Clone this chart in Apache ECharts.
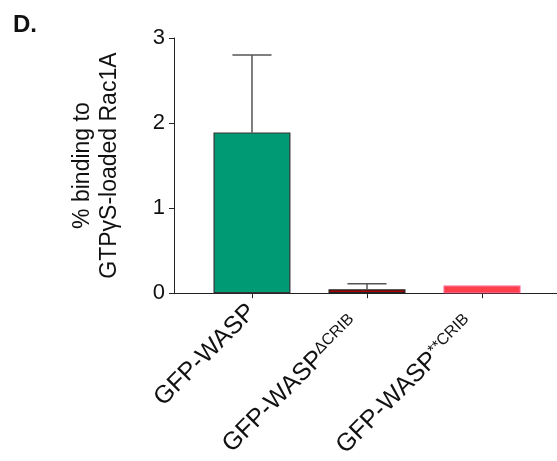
<!DOCTYPE html>
<html><head><meta charset="utf-8">
<script src="https://cdn.jsdelivr.net/npm/echarts@6/dist/echarts.min.js"></script>
<style>html,body{margin:0;padding:0;background:#fff}#c{width:557px;height:461px}</style>
</head><body><div id="c"></div>
<script>
const categories = ['GFP-WASP', 'GFP-WASP{sup|ΔCRIB}', 'GFP-WASP{sup|**CRIB}'];
const means = [1.89, 0.045, 0.09];
const errTops = [2.80, 0.11, null];
const barColors = ['#009B74', '#A80000', '#FF4048'];
const barBorders = ['#333333', '#222222', '#FF5A85'];
const yTicks = [0, 1, 2, 3];

const chart = echarts.init(document.getElementById('c'));
const font = 'Arial, "Liberation Sans", sans-serif';
chart.setOption({
  animation: false,
  title: { text: 'D.', left: 8, top: 8, textStyle: { fontFamily: font, fontSize: 24, fontWeight: 'bold', color: '#111' } },
  grid: { left: 174, right: 0, top: 38, bottom: 167, containLabel: false },
  xAxis: {
    type: 'value', min: -0.678, max: 2.652,
    splitLine: { show: false },
    axisLine: { show: true, onZero: false, lineStyle: { color: '#222', width: 1 } },
    axisTick: { show: true, customValues: [0, 1, 2], length: 5, lineStyle: { color: '#222' } },
    axisLabel: {
      customValues: [0, 1, 2], rotate: 45, margin: 15,
      fontFamily: font, fontSize: 25, color: '#111', lineHeight: 26,
      formatter: v => categories[Math.round(v)],
      rich: { sup: { fontFamily: font, fontSize: 16, color: '#111', verticalAlign: 'top', lineHeight: 26, padding: [0, 17, 0, 0] } }
    }
  },
  yAxis: {
    type: 'value', min: 0, max: 3, interval: 1,
    splitLine: { show: false },
    axisLine: { show: true, onZero: false, lineStyle: { color: '#222', width: 1 } },
    axisTick: { show: true, length: 5, lineStyle: { color: '#222' } },
    axisLabel: { fontFamily: font, fontSize: 22, color: '#111', margin: 9 },
    name: '% binding to\nGTPγS-loaded Rac1A',
    nameLocation: 'middle', nameGap: 51, nameRotate: 90,
    nameTextStyle: { fontFamily: font, fontSize: 23, color: '#111', lineHeight: 27 }
  },
  series: [
    {
      type: 'custom',
      renderItem: (params, api) => {
        const x = api.value(0), top = api.value(1), err = api.value(2);
        const children = [];
        if (err != null && !isNaN(err)) {
          const p0 = api.coord([x, top]);
          const p1 = api.coord([x, err]);
          const hw = api.size([0.17, 0])[0];
          children.push({ type: 'line', shape: { x1: p0[0], y1: p0[1], x2: p1[0], y2: p1[1] }, style: { stroke: '#555', lineWidth: 1.5 } });
          children.push({ type: 'line', shape: { x1: p1[0] - hw, y1: p1[1], x2: p1[0] + hw, y2: p1[1] }, style: { stroke: '#555', lineWidth: 1.5 } });
        }
        return { type: 'group', children };
      },
      data: means.map((m, i) => [i, m, errTops[i]]),
      z: 1
    },
    {
      type: 'bar', barWidth: 77,
      data: means.map((m, i) => ({ value: [i, m], itemStyle: { color: barColors[i], borderColor: barBorders[i], borderWidth: 1.2 } })),
      z: 2
    }
  ]
});
</script></body></html>
